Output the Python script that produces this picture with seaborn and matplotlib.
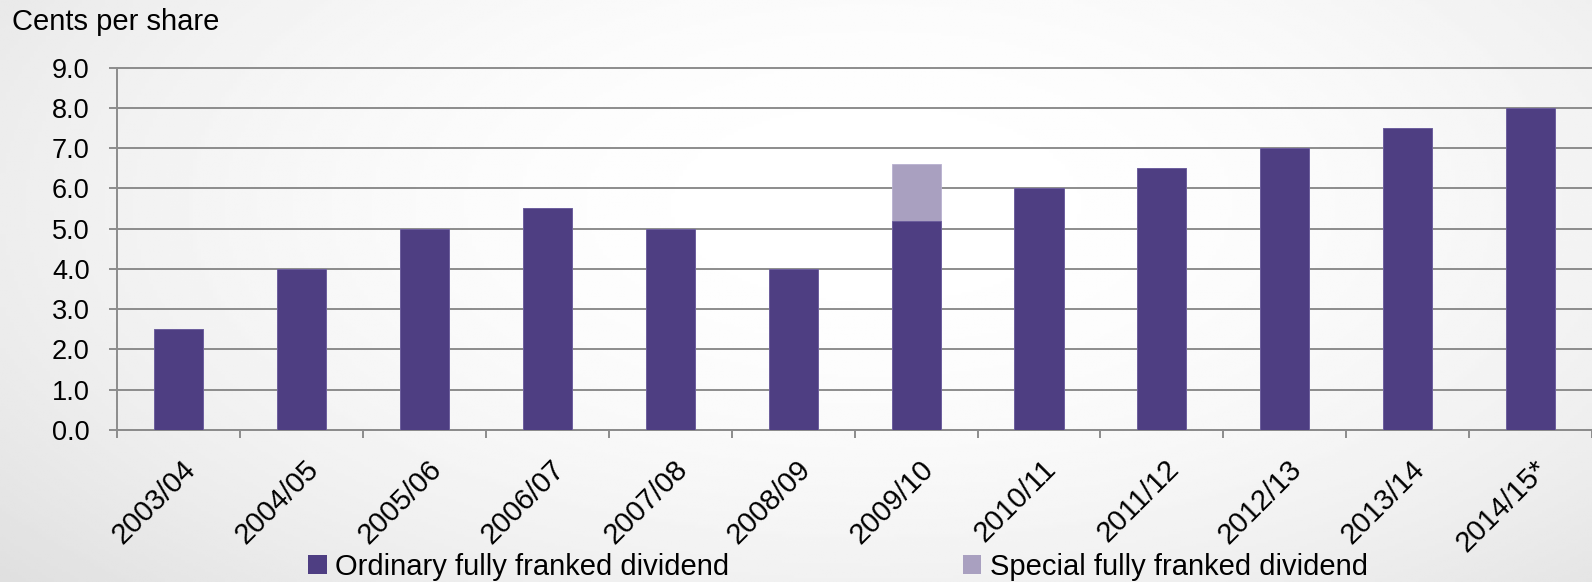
import numpy as np
import pandas as pd
import matplotlib
matplotlib.use("Agg")
import matplotlib.pyplot as plt
from matplotlib.patches import Patch
import matplotlib.transforms as mtransforms
import seaborn as sns

categories = ["2003/04", "2004/05", "2005/06", "2006/07", "2007/08", "2008/09",
              "2009/10", "2010/11", "2011/12", "2012/13", "2013/14", "2014/15*"]
ordinary = [2.5, 4.0, 5.0, 5.5, 5.0, 4.0, 5.2, 6.0, 6.5, 7.0, 7.5, 8.0]
special = [0, 0, 0, 0, 0, 0, 1.4, 0, 0, 0, 0, 0]
yticks = [0.0, 1.0, 2.0, 3.0, 4.0, 5.0, 6.0, 7.0, 8.0, 9.0]
series_names = ["Ordinary fully franked dividend", "Special fully franked dividend"]

dark = "#4E3E82"
light = "#A9A0C0"
grid_c = "#8C8C8C"

plt.rcParams["font.family"] = ["Liberation Sans", "DejaVu Sans"]

W, H = 1592, 582
fig = plt.figure(figsize=(W / 100, H / 100), dpi=100)

# background gradient
bg = fig.add_axes([0, 0, 1, 1], zorder=-10)
yy, xx = np.mgrid[0:1:200j, 0:1:400j]
r2 = ((xx - 0.55) / 0.75) ** 2 + ((yy - 0.35) / 1.0) ** 2
val = np.clip(1.0 - 0.13 * r2, 0.86, 1.0)
bg.imshow(val, cmap="gray", vmin=0, vmax=1, aspect="auto", extent=[0, 1, 1, 0])
bg.axis("off")

left = 117.3 / W
bottom = (H - 430) / H
top_px = 67.5
height = (430 - top_px) / H
ax = fig.add_axes([left, bottom, 1 - left, height])
ax.patch.set_alpha(0)

df = pd.DataFrame({"cat": categories,
                   "total": np.array(ordinary) + np.array(special),
                   "ordinary": ordinary})

sns.barplot(data=df, x="cat", y="total", color=light, saturation=1, width=0.4,
            ax=ax, zorder=3, edgecolor="#B8B0D0", linewidth=0.6)
sns.barplot(data=df, x="cat", y="ordinary", color=dark, saturation=1, width=0.4,
            ax=ax, zorder=4, edgecolor="#6A5C9C", linewidth=0.6)

ax.set_xlim(-0.5, (W - 117.3) / 124.13 - 0.5)
ax.set_ylim(0, 9.0)
ax.set_yticks(yticks)
ax.set_yticklabels([f"{v:.1f}" for v in yticks], fontsize=19.5)
for v in yticks:
    ax.axhline(v, color=grid_c, lw=1.4, zorder=1, clip_on=False)

ax.set_xlabel("")
ax.set_ylabel("")
for s in ["top", "right"]:
    ax.spines[s].set_visible(False)
ax.spines["left"].set_color(grid_c)
ax.spines["left"].set_linewidth(1.4)
ax.spines["bottom"].set_color(grid_c)
ax.spines["bottom"].set_linewidth(1.4)

ax.tick_params(axis="y", length=6, width=1.4, color=grid_c, pad=14, labelcolor="black")
ax.set_xticks(range(len(categories)))
ax.set_xticklabels(categories, fontsize=21, rotation=45, ha="right",
                   rotation_mode="anchor")
ax.tick_params(axis="x", which="major", length=0, pad=18)
ax.set_xticks(np.arange(-0.5, len(categories), 1.0), minor=True)
ax.tick_params(axis="x", which="minor", length=6, width=1.4, color=grid_c)
offset = mtransforms.ScaledTranslation(3 / 100, 0, fig.dpi_scale_trans)
for lbl in ax.get_xticklabels():
    lbl.set_transform(lbl.get_transform() + offset)

fig.text(12 / W, 1 - 30 / H, "Cents per share", fontsize=21, ha="left",
         va="baseline")

handles = [Patch(facecolor=dark, edgecolor="none"),
           Patch(facecolor=light, edgecolor="none")]
fig.legend(handles, series_names, loc="center", ncol=2,
           bbox_to_anchor=(838 / W, 1 - 567 / H), frameon=False, fontsize=21,
           handlelength=0.62, handleheight=0.62, handletextpad=0.3,
           columnspacing=8.0, borderaxespad=0, borderpad=0)

fig.savefig("out.png", dpi=100)
